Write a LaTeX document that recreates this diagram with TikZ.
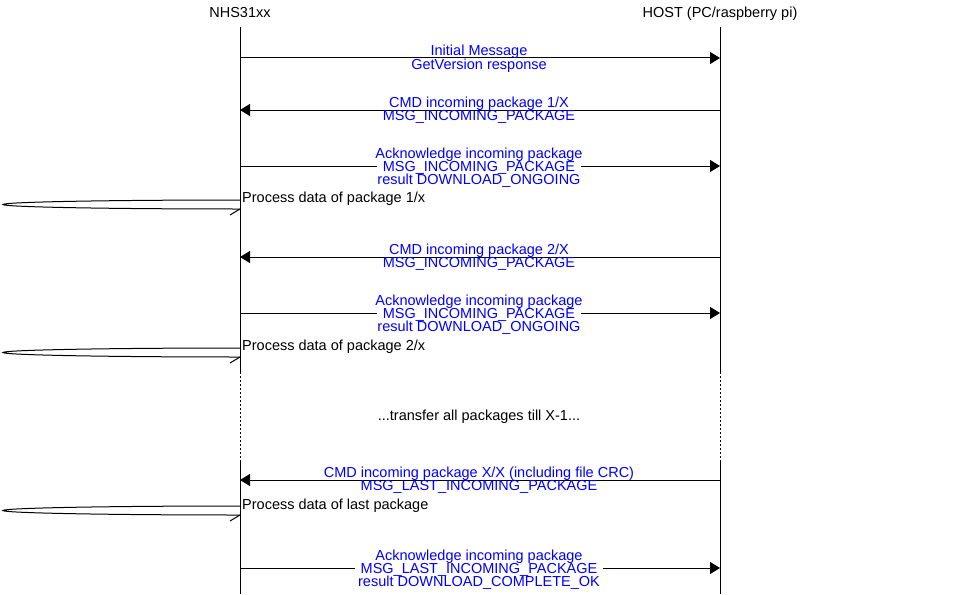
\documentclass[tikz,border=0pt]{standalone}
\usepackage{fontspec}
\setmainfont{Liberation Sans}
\usetikzlibrary{arrows.meta}
\definecolor{msgblue}{RGB}{0,0,255}
\begin{document}
\begin{tikzpicture}[x=1pt,y=-1pt,
  every node/.style={font=\fontsize{14.5}{13}\selectfont, inner sep=0pt},
  lbl/.style={text=msgblue, anchor=base},
  lblbg/.style={text=msgblue, anchor=base, fill=white, inner xsep=6pt},
  title/.style={text=black, anchor=base},
  proc/.style={text=black, anchor=base west},
  msg/.style={-{Triangle[length=10pt,width=12pt]}, line width=1pt},
  life/.style={line width=1pt},
  lifedot/.style={line width=1pt, dash pattern=on 2pt off 2pt},
  loopline/.style={line width=1pt}]
\useasboundingbox (0,0) rectangle (960,594);

% titles
\node[title] (tn) at (240,18) {NHS31xx};
\node[title] (th) at (720,18) {HOST (PC/raspberry pi)};

% lifelines
\coordinate (nTop) at (240,27);
\coordinate (nDa) at (240,372);
\coordinate (nDb) at (240,462);
\coordinate (nBot) at (240,594);
\coordinate (hTop) at (720,27);
\coordinate (hDa) at (720,372);
\coordinate (hDb) at (720,462);
\coordinate (hBot) at (720,594);
\draw[life] (nTop) -- (nDa);
\draw[lifedot] (nDa) -- (nDb);
\draw[life] (nDb) -- (nBot);
\draw[life] (hTop) -- (hDa);
\draw[lifedot] (hDa) -- (hDb);
\draw[life] (hDb) -- (hBot);

% message 1
\coordinate (n1) at (240,58); \coordinate (h1) at (720,58);
\draw[msg] (n1) -- (h1);
\node[lbl] (m1a) at (479,56) {Initial Message};
\node[lbl] (m1b) at (479,69) {GetVersion response};

% message 2
\coordinate (n2) at (240,110); \coordinate (h2) at (720,110);
\draw[msg] (h2) -- (n2);
\node[lbl] (m2a) at (479,107) {CMD incoming package 1/X};
\node[lbl] (m2b) at (479,120) {MSG\_INCOMING\_PACKAGE};

% message 3
\coordinate (n3) at (240,166); \coordinate (h3) at (720,166);
\draw[msg] (n3) -- (h3);
\node[lbl] (m3a) at (479,158) {Acknowledge incoming package};
\node[lblbg] (m3b) at (479,171) {MSG\_INCOMING\_PACKAGE};
\node[lbl] (m3c) at (479,184) {result DOWNLOAD\_ONGOING};

% self 1
\coordinate (s1t) at (240,200); \coordinate (s1b) at (240,209); \coordinate (s1h) at (230,215);
\draw[loopline] (s1t) arc[start angle=90, end angle=270, x radius=237pt, y radius=4.5pt];
\draw[loopline] (s1h) -- (s1b);
\node[proc] (p1) at (242,202) {Process data of package 1/x};

% message 4
\coordinate (n4) at (240,257); \coordinate (h4) at (720,257);
\draw[msg] (h4) -- (n4);
\node[lbl] (m4a) at (479,254) {CMD incoming package 2/X};
\node[lbl] (m4b) at (479,267) {MSG\_INCOMING\_PACKAGE};

% message 5
\coordinate (n5) at (240,313); \coordinate (h5) at (720,313);
\draw[msg] (n5) -- (h5);
\node[lbl] (m5a) at (479,305) {Acknowledge incoming package};
\node[lblbg] (m5b) at (479,318) {MSG\_INCOMING\_PACKAGE};
\node[lbl] (m5c) at (479,331) {result DOWNLOAD\_ONGOING};

% self 2
\coordinate (s2t) at (240,348); \coordinate (s2b) at (240,357); \coordinate (s2h) at (230,363);
\draw[loopline] (s2t) arc[start angle=90, end angle=270, x radius=237pt, y radius=4.5pt];
\draw[loopline] (s2h) -- (s2b);
\node[proc] (p2) at (242,350) {Process data of package 2/x};

% gap text
\node[title] (gap) at (479,420) {...transfer all packages till X-1...};

% message 6
\coordinate (n6) at (240,480); \coordinate (h6) at (720,480);
\draw[msg] (h6) -- (n6);
\node[lbl] (m6a) at (479,477) {CMD incoming package X/X (including file CRC)};
\node[lbl] (m6b) at (479,490) {MSG\_LAST\_INCOMING\_PACKAGE};

% self 3
\coordinate (s3t) at (240,506); \coordinate (s3b) at (240,515); \coordinate (s3h) at (230,521);
\draw[loopline] (s3t) arc[start angle=90, end angle=270, x radius=237pt, y radius=4.5pt];
\draw[loopline] (s3h) -- (s3b);
\node[proc] (p3) at (242,509) {Process data of last package};

% message 7
\coordinate (n7) at (240,568); \coordinate (h7) at (720,568);
\draw[msg] (n7) -- (h7);
\node[lbl] (m7a) at (479,560) {Acknowledge incoming package};
\node[lblbg] (m7b) at (479,573) {MSG\_LAST\_INCOMING\_PACKAGE};
\node[lbl] (m7c) at (479,586) {result DOWNLOAD\_COMPLETE\_OK};
\end{tikzpicture}
\end{document}
